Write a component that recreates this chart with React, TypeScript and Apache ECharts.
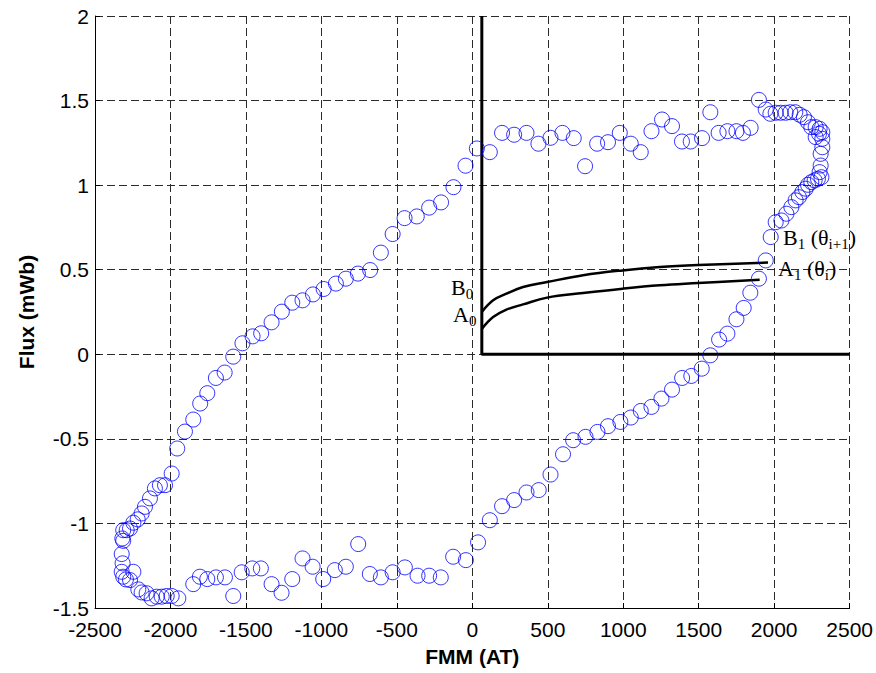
import React, { useEffect, useRef } from "react";
import * as echarts from "echarts";

// FMM (AT) / Flux (mWb) samples, following the loop
const risingBranch: number[][] = [
  [-1992, -0.705], [-1955, -0.557], [-1904, -0.457], [-1849, -0.386], [-1803, -0.291],
  [-1756, -0.23], [-1699, -0.14], [-1641, -0.108], [-1584, -0.014], [-1523, 0.065],
  [-1456, 0.106], [-1399, 0.124], [-1330, 0.189], [-1262, 0.252], [-1193, 0.305],
  [-1125, 0.319], [-1056, 0.354], [-985, 0.386], [-904, 0.418], [-838, 0.447],
  [-758, 0.477], [-677, 0.498], [-606, 0.601], [-528, 0.711], [-449, 0.805],
  [-368, 0.815], [-286, 0.867], [-207, 0.898], [-125, 0.988], [-45, 1.115], [30, 1.217],
];
const topRow: number[][] = [
  [116, 1.195], [197, 1.309], [277, 1.298], [359, 1.309], [438, 1.245], [518, 1.28],
  [597, 1.309], [672, 1.278], [747, 1.112], [827, 1.245], [899, 1.254], [977, 1.309],
  [1050, 1.245], [1116, 1.195], [1187, 1.319], [1257, 1.388], [1323, 1.349], [1389, 1.258],
  [1447, 1.258], [1522, 1.278], [1577, 1.431], [1632, 1.309], [1690, 1.319], [1750, 1.319],
  [1793, 1.309], [1844, 1.339], [1899, 1.504],
];
const rightTurn: number[][] = [
  [1944, 1.447], [1975, 1.422], [2010, 1.428], [2043, 1.428], [2076, 1.428], [2107, 1.431],
  [2140, 1.431], [2169, 1.416], [2197, 1.402], [2224, 1.372], [2246, 1.343], [2275, 1.343],
  [2301, 1.333], [2319, 1.313], [2297, 1.304], [2275, 1.284], [2319, 1.274], [2319, 1.224],
  [2308, 1.185], [2308, 1.116], [2301, 1.077], [2313, 1.047], [2290, 1.038], [2268, 1.028],
  [2246, 1.018], [2224, 1.002], [2209, 0.979], [2187, 0.959], [2164, 0.929], [2142, 0.91],
  [2114, 0.87], [2081, 0.831], [2048, 0.791], [2010, 0.781], [1977, 0.693],
];
const fallingBranch: number[][] = [
  [1944, 0.555], [1899, 0.447], [1842, 0.364], [1798, 0.274], [1750, 0.207], [1690, 0.122],
  [1635, 0.087], [1577, -0.006], [1520, -0.085], [1451, -0.128], [1390, -0.14], [1323, -0.209],
  [1253, -0.262], [1187, -0.311], [1116, -0.335], [1050, -0.374], [981, -0.4], [899, -0.425],
  [829, -0.459], [750, -0.488], [668, -0.508], [601, -0.591], [518, -0.711], [440, -0.803],
  [359, -0.817], [277, -0.862], [197, -0.898], [116, -0.981], [38, -1.112], [-43, -1.217],
];
const bottomRow: number[][] = [
  [-127, -1.197], [-209, -1.319], [-286, -1.309], [-363, -1.309], [-447, -1.26], [-528, -1.289],
  [-606, -1.319], [-679, -1.299], [-756, -1.122], [-838, -1.256], [-911, -1.276], [-988, -1.329],
  [-1058, -1.256], [-1125, -1.207], [-1193, -1.329], [-1264, -1.41], [-1330, -1.359], [-1401, -1.266],
  [-1458, -1.266], [-1528, -1.289], [-1584, -1.429], [-1639, -1.319], [-1699, -1.319], [-1756, -1.329],
  [-1805, -1.315], [-1849, -1.359], [-1904, -1.502],
];
const leftTurn: number[][] = [
  [-1948, -1.443], [-1992, -1.429], [-2025, -1.429], [-2058, -1.433], [-2091, -1.433], [-2125, -1.443],
  [-2158, -1.413], [-2191, -1.408], [-2213, -1.39], [-2246, -1.286], [-2268, -1.335], [-2295, -1.331],
  [-2313, -1.315], [-2323, -1.286], [-2317, -1.236], [-2323, -1.181], [-2313, -1.103], [-2319, -1.089],
  [-2313, -1.04], [-2290, -1.04], [-2268, -1.03], [-2246, -0.996], [-2217, -0.976], [-2191, -0.941],
  [-2169, -0.902], [-2136, -0.852], [-2103, -0.793], [-2070, -0.774], [-2036, -0.774],
];

// inset schematic (drawn in the same data space)
const insetFrame: number[][] = [[63, 2], [63, 0], [2500, 0]];
const curveB: number[][] = [
  [63, 0.25], [138, 0.319], [226, 0.358], [336, 0.398], [495, 0.427], [734, 0.467],
  [995, 0.496], [1242, 0.516], [1496, 0.528], [1959, 0.542],
];
const curveA: number[][] = [
  [63, 0.15], [138, 0.22], [226, 0.264], [336, 0.295], [495, 0.335], [734, 0.362],
  [995, 0.388], [1242, 0.408], [1496, 0.421], [1904, 0.441],
];

const SANS = "'Liberation Sans', Arial, Helvetica, sans-serif";
const SERIF = "'Liberation Serif', 'Times New Roman', serif";

const richStyles = {
  m: { fontFamily: SERIF, fontSize: 22, fill: "#000", lineHeight: 24, verticalAlign: "bottom" },
  s: { fontFamily: SERIF, fontSize: 15, fill: "#000", lineHeight: 16, verticalAlign: "bottom", padding: [0, 0, -3, 0] },
};

export default function App() {
  const ref = useRef<HTMLDivElement>(null);
  useEffect(() => {
    if (!ref.current) return;
    const chart = echarts.init(ref.current, undefined, { renderer: "svg" });
    const points = [...risingBranch, ...topRow, ...rightTurn, ...fallingBranch, ...bottomRow, ...leftTurn];
    const axisCommon = {
      type: "value" as const,
      axisLine: { show: true, onZero: false, lineStyle: { color: "#000", width: 1 } },
      axisTick: { show: true, inside: true, length: 5, lineStyle: { color: "#000" } },
      splitLine: { show: true, showMinLine: true, showMaxLine: true, lineStyle: { color: "#2a2a2a", type: [8, 4], width: 1 } },
      nameLocation: "middle" as const,
      nameTextStyle: { fontFamily: SANS, fontSize: 21, fontWeight: "bold", color: "#000" },
    };
    chart.setOption({
      animation: false,
      backgroundColor: "#fff",
      grid: { left: 95, right: 26, top: 16, bottom: 65, containLabel: false },
      xAxis: {
        ...axisCommon,
        min: -2500, max: 2500, interval: 500,
        name: "FMM (AT)", nameGap: 38,
        axisLabel: { fontFamily: SANS, fontSize: 21, lineHeight: 21, color: "#000", margin: 11, formatter: (v: number) => String(v) },
      },
      yAxis: {
        ...axisCommon,
        min: -1.5, max: 2, interval: 0.5,
        name: "Flux (mWb)", nameGap: 58,
        axisLabel: { fontFamily: SANS, fontSize: 21, lineHeight: 16, color: "#000", margin: 6, formatter: (v: number) => String(v) },
      },
      series: [
        {
          type: "line", data: insetFrame, symbol: "none", silent: true, z: 3,
          lineStyle: { color: "#000", width: 3 },
        },
        {
          type: "line", data: curveB, symbol: "none", smooth: 0.4, silent: true, z: 3,
          lineStyle: { color: "#000", width: 2.5 },
        },
        {
          type: "line", data: curveA, symbol: "none", smooth: 0.4, silent: true, z: 3,
          lineStyle: { color: "#000", width: 2.5 },
        },
        {
          type: "scatter", data: points, symbol: "circle", symbolSize: 15, z: 4,
          itemStyle: { color: "rgba(0,0,0,0)", borderColor: "#0000ff", borderWidth: 1 },
        },
      ],
      graphic: [
        { type: "text", left: 451, top: 276, z: 10, style: { text: "{m|B}{s|0}", rich: richStyles } },
        { type: "text", left: 453, top: 303, z: 10, style: { text: "{m|A}{s|0}", rich: richStyles } },
        { type: "text", left: 783, top: 226, z: 10, style: { text: "{m|B}{s|1}{m| (θ}{s|i+1}{m|)}", rich: richStyles } },
        { type: "text", left: 778, top: 257, z: 10, style: { text: "{m|A}{s|1}{m| (θ}{s|i}{m|)}", rich: richStyles } },
      ],
    });
    return () => chart.dispose();
  }, []);
  return <div ref={ref} style={{ position: "fixed", left: 0, top: 0, width: 876, height: 673 }} />;
}
